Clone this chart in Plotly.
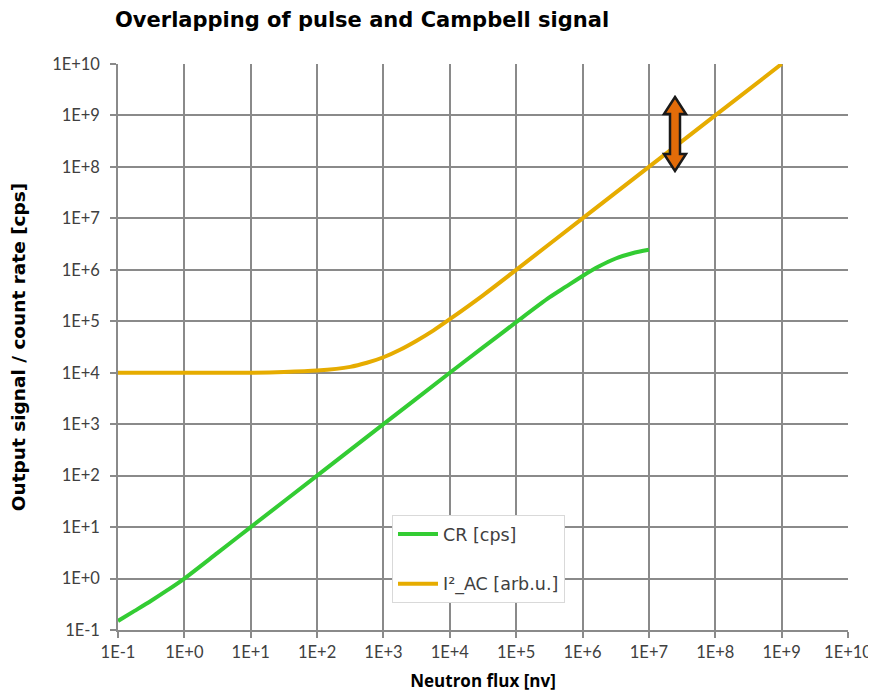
import plotly.graph_objects as go

# ---- data ----
cr_flux = [1e-1, 10**-0.75, 10**-0.5, 10**-0.25, 1e0, 10**0.5, 1e1, 1e2, 1e3, 1e4,
           10**4.5, 1e5, 10**5.5, 10**5.75, 1e6, 10**6.25, 10**6.5, 10**6.75, 1e7]
cr_vals = [0.15, 0.235, 0.37, 0.6, 1.0, 3.15, 10, 100, 1000, 1e4,
           3.1e4, 9.6e4, 2.9e5, 4.7e5, 7.6e5, 1.17e6, 1.66e6, 2.1e6, 2.45e6]

ac_flux = [1e-1, 1e0, 1e1, 10**1.5, 1e2, 10**2.5, 10**2.75, 1e3, 10**3.25, 10**3.5,
           10**3.75, 1e4, 10**4.5, 1e5, 1e6, 1e7, 1e8, 1e9]
ac_vals = [1e4, 1e4, 1.0e4, 1.03e4, 1.1e4, 1.3e4, 1.56e4, 2.0e4, 2.8e4, 4.2e4,
           6.6e4, 1.1e5, 3.2e5, 1.0e6, 1.0e7, 1.0e8, 1.0e9, 1.0e10]

tick_vals = [10.0**k for k in range(-1, 11)]
tick_text = ["1E-1", "1E+0", "1E+1", "1E+2", "1E+3", "1E+4", "1E+5",
             "1E+6", "1E+7", "1E+8", "1E+9", "1E+10"]

GREEN = "#33cc33"
ORANGE = "#e6ac00"
GRID = "#8a8a8a"
FONT = "Lato"
WIDE = "DejaVu Sans"

# page is offset by the 8px body margin -> work in figure pixels
OFF = 8
W, H = 876 - OFF, 692 - OFF
L, R, T, B = 118 - OFF, 848 - OFF, 64 - OFF, 630 - OFF

fig = go.Figure()
fig.add_trace(go.Scatter(x=cr_flux, y=cr_vals, mode="lines", name="CR [cps]",
                         line=dict(color=GREEN, width=4, shape="spline", smoothing=0.8),
                         legendgroup="a"))
fig.add_trace(go.Scatter(x=ac_flux, y=ac_vals, mode="lines", name="I²_AC [arb.u.]",
                         line=dict(color=ORANGE, width=4, shape="spline", smoothing=0.8),
                         legendgroup="b"))

axis_common = dict(
    type="log", tickvals=tick_vals, ticktext=tick_text,
    showgrid=True, gridcolor=GRID, gridwidth=1.5,
    showline=True, linecolor=GRID, linewidth=1.5,
    ticks="outside", ticklen=6, tickcolor=GRID, tickwidth=1.5,
    tickfont=dict(family=FONT, size=16.5, color="#404040"),
    zeroline=False, mirror=False, automargin=False,
)

fig.update_xaxes(range=[-1, 10], **axis_common,
                 title=dict(text="<b>Neutron flux [nv]</b>", standoff=16,
                            font=dict(family="Open Sans", size=17, color="black")))
fig.update_yaxes(range=[-1, 10], **axis_common, ticklabelstandoff=7,
                 title=dict(text="<b>Output signal / count rate [cps]</b>", standoff=25,
                            font=dict(family=WIDE, size=18.5, color="black")))

# double-headed arrow (decoration) in paper coordinates from pixel geometry
def px(x):
    return (x - OFF - L) / (R - L)
def py(y):
    return (B - (y - OFF)) / (B - T)
cx, top, bot = 675, 97, 171
sw, hw, hh = 5, 11, 17
pts = [(cx, top), (cx + hw, top + hh), (cx + sw, top + hh), (cx + sw, bot - hh),
       (cx + hw, bot - hh), (cx, bot), (cx - hw, bot - hh), (cx - sw, bot - hh),
       (cx - sw, top + hh), (cx - hw, top + hh)]
path = "M " + " L ".join(f"{px(a):.5f},{py(b):.5f}" for a, b in pts) + " Z"
fig.add_shape(type="path", path=path, xref="paper", yref="paper",
              fillcolor="#e36c09", line=dict(color="#1a1a1a", width=2.5))

fig.update_layout(
    width=W, height=H,
    margin=dict(l=L, r=W - R, t=T, b=H - B, autoexpand=False),
    paper_bgcolor="white", plot_bgcolor="white",
    title=dict(text="<b>Overlapping of pulse and Campbell signal</b>",
               x=(115 - OFF) / W, xanchor="left", y=1 - (20 - OFF) / H, yanchor="middle",
               font=dict(family=WIDE, size=21, color="black")),
    legend=dict(x=px(392), y=py(515), xanchor="left", yanchor="top",
                bgcolor="white", bordercolor="#d9d9d9", borderwidth=1,
                font=dict(family=WIDE, size=17.5, color="#404040"),
                traceorder="grouped", tracegroupgap=24, itemwidth=40),
    showlegend=True,
)

fig.write_html("out.html")
